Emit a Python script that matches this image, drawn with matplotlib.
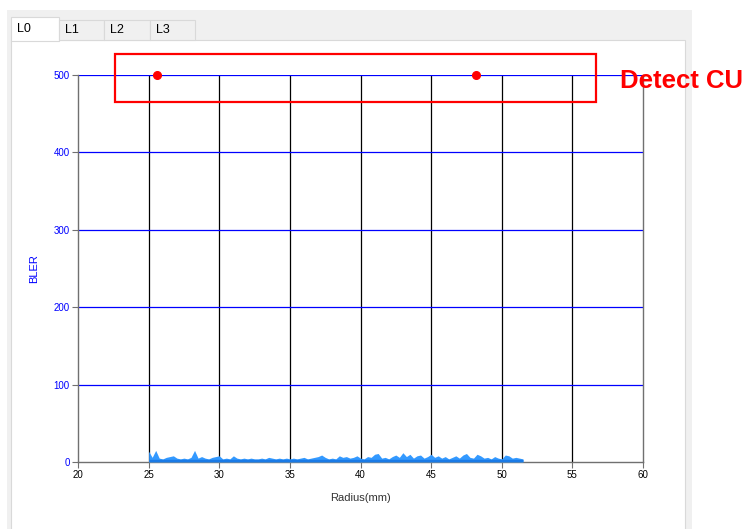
import numpy as np
import matplotlib
matplotlib.use('Agg')
import matplotlib.pyplot as plt
from matplotlib.patches import Rectangle

# Data
radius = [25.00, 25.25, 25.50, 25.75, 26.00, 26.25, 26.50, 26.75, 27.00, 27.25,
          27.50, 27.75, 28.00, 28.25, 28.50, 28.75, 29.00, 29.25, 29.50, 29.75,
          30.00, 30.25, 30.50, 30.75, 31.00, 31.25, 31.50, 31.75, 32.00, 32.25,
          32.50, 32.75, 33.00, 33.25, 33.50, 33.75, 34.00, 34.25, 34.50, 34.75,
          35.00, 35.25, 35.50, 35.75, 36.00, 36.25, 36.50, 36.75, 37.00, 37.25,
          37.50, 37.75, 38.00, 38.25, 38.50, 38.75, 39.00, 39.25, 39.50, 39.75,
          40.00, 40.25, 40.50, 40.75, 41.00, 41.25, 41.50, 41.75, 42.00, 42.25,
          42.50, 42.75, 43.00, 43.25, 43.50, 43.75, 44.00, 44.25, 44.50, 44.75,
          45.00, 45.25, 45.50, 45.75, 46.00, 46.25, 46.50, 46.75, 47.00, 47.25,
          47.50, 47.75, 48.00, 48.25, 48.50, 48.75, 49.00, 49.25, 49.50, 49.75,
          50.00, 50.25, 50.50, 50.75, 51.00, 51.25, 51.50]
bler = [14, 6, 15, 5, 4, 6, 7, 8, 5, 4,
        5, 4, 6, 15, 5, 7, 5, 4, 6, 7,
        8, 4, 5, 4, 8, 5, 4, 5, 4, 5,
        4, 4, 5, 4, 6, 5, 4, 5, 4, 5,
        4, 5, 4, 5, 6, 4, 5, 6, 7, 9,
        6, 4, 5, 4, 8, 6, 7, 5, 6, 8,
        5, 4, 7, 6, 10, 11, 5, 6, 4, 7,
        9, 6, 12, 7, 10, 5, 8, 9, 5, 7,
        10, 6, 8, 5, 7, 4, 6, 8, 5, 9,
        11, 6, 5, 10, 8, 5, 6, 4, 7, 5,
        4, 9, 8, 5, 6, 5, 4]

detect_r = [25.6, 48.2]
detect_bler = [500, 500]

x_ticks = [20, 25, 30, 35, 40, 45, 50, 55, 60]
y_ticks = [0, 100, 200, 300, 400, 500]
tabs = ['L0', 'L1', 'L2', 'L3']

W, H = 747, 529
fig = plt.figure(figsize=(W / 100, H / 100), dpi=100)
plt.rcParams['font.family'] = ['Liberation Sans', 'DejaVu Sans']

# window background drawn in pixel coordinates
bg = fig.add_axes([0, 0, 1, 1], zorder=-5)
bg.set_xlim(0, W)
bg.set_ylim(H, 0)
bg.axis('off')
bg.add_patch(Rectangle((7, 10), 685, H, facecolor='#f0f0f0', edgecolor='none'))
bg.add_patch(Rectangle((11, 40), 674, H, facecolor='white', edgecolor='#d9d9d9', lw=0.8))
tab_x = [11, 59, 104, 150, 195]
for i, name in enumerate(tabs):
    if i == 0:
        bg.add_patch(Rectangle((tab_x[0], 17), tab_x[1] - tab_x[0], 24,
                               facecolor='white', edgecolor='#d9d9d9', lw=0.8))
        bg.text(17, 29, name, fontsize=9, va='center', ha='left', color='black')
    else:
        bg.add_patch(Rectangle((tab_x[i], 20), tab_x[i + 1] - tab_x[i], 20,
                               facecolor='#f0f0f0', edgecolor='#d9d9d9', lw=0.8))
        bg.text(tab_x[i] + 6, 30, name, fontsize=9, va='center', ha='left', color='black')

# main chart
ax = fig.add_axes([78 / W, 1 - 462 / H, (643 - 78) / W, (462 - 75) / H])
ax.set_xlim(20, 60)
ax.set_ylim(0, 500)
ax.set_xticks(x_ticks)
ax.set_yticks(y_ticks)

for xv in x_ticks[1:-1]:
    ax.axvline(xv, color='black', lw=0.9, zorder=1)
for yv in y_ticks[1:]:
    ax.axhline(yv, color='#0000ff', lw=0.9, zorder=1)

ax.fill_between(radius, 0, bler, color='#3399ff', lw=0, zorder=3)
ax.plot([radius[0], radius[-1]], [1.5, 1.5], color='#1a7ae6', lw=2.4,
        solid_capstyle='butt', zorder=4)

ax.plot(detect_r, detect_bler, 'o', color='red', ms=5.5, zorder=6, clip_on=False)

for s in ['left', 'bottom', 'right']:
    ax.spines[s].set_color('#707070')
    ax.spines[s].set_linewidth(1.0)
ax.spines['top'].set_visible(False)

ax.tick_params(axis='both', direction='out', length=4, width=0.8, color='#707070',
               labelsize=7, pad=2)
ax.tick_params(axis='y', labelcolor='#0000ff')
ax.tick_params(axis='x', labelcolor='black')

ax.set_ylabel('BLER', color='#0000ff', fontsize=8)
ax.yaxis.set_label_coords(-0.069, 0.5)
ax.set_xlabel('Radius(mm)', color='#333333', fontsize=8)
ax.xaxis.set_label_coords(0.5, -0.08)

# annotation overlay on top of everything
top = fig.add_axes([0, 0, 1, 1], zorder=10)
top.set_xlim(0, W)
top.set_ylim(H, 0)
top.axis('off')
top.patch.set_alpha(0)
top.add_patch(Rectangle((115, 54), 481, 48, facecolor='none', edgecolor='red', lw=1.6))
top.text(620, 81, 'Detect CU', color='red', fontsize=18.5, fontweight='bold',
         va='center', ha='left')

fig.savefig('out.png', dpi=100)
